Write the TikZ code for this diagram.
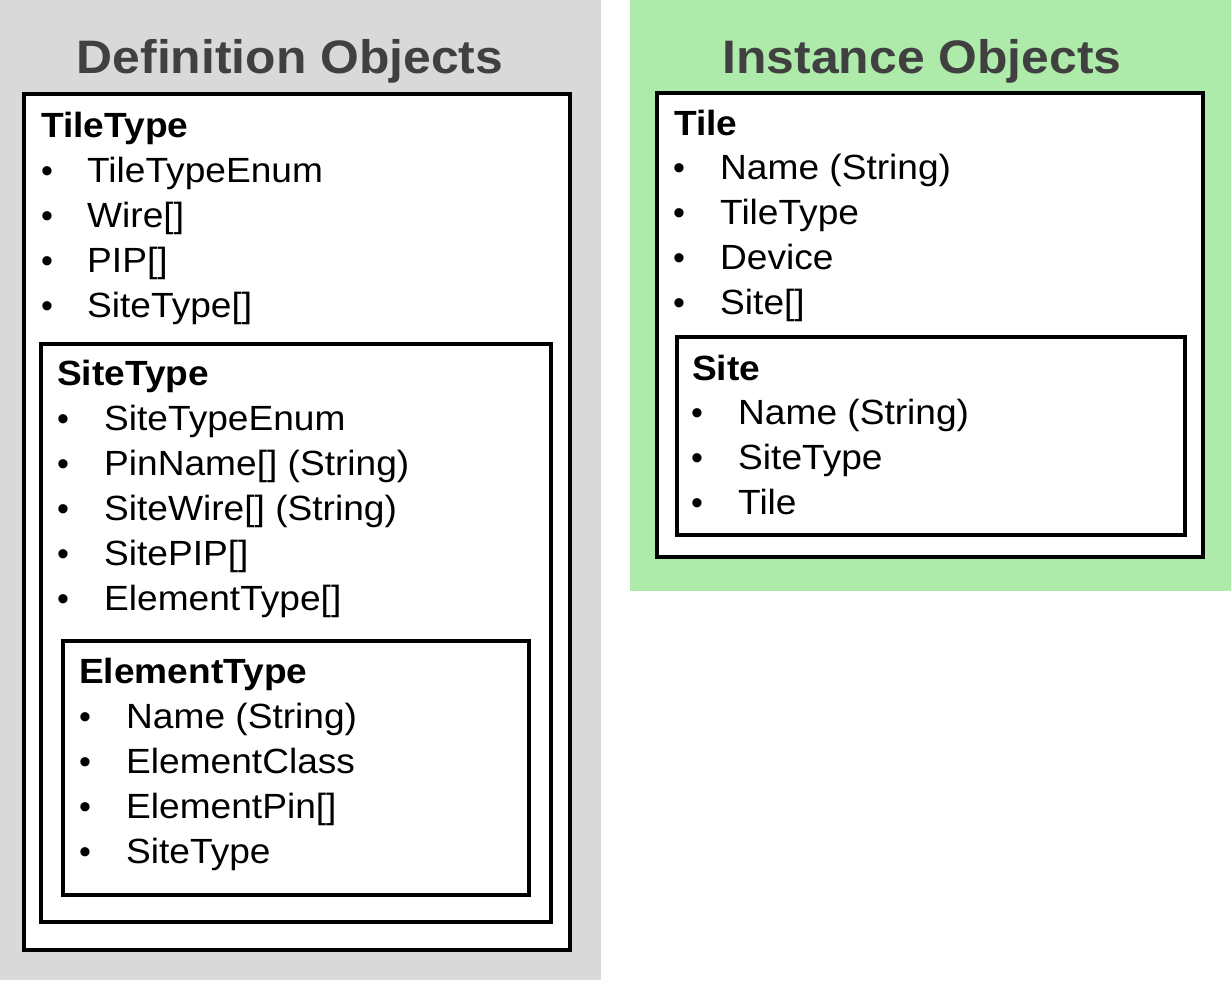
\documentclass[tikz,border=0pt]{standalone}
\usepackage{fontspec}
\setmainfont{Liberation Sans}
\newfontfamily\diagfont[FakeStretch=1.06]{Liberation Sans}
\definecolor{bggray}{HTML}{D9D9D9}
\definecolor{bggreen}{HTML}{AEEBAB}
\definecolor{titlegray}{HTML}{404040}
\tikzset{
  box/.style={draw=black, line width=3.5pt, fill=white},
  itemtxt/.style={anchor=base west, inner sep=0pt, font=\diagfont\fontsize{35}{42}\selectfont},
  bul/.style={anchor=base, inner sep=0pt, font=\fontsize{34}{40}\selectfont},
  hdr/.style={anchor=base west, inner sep=0pt, font=\diagfont\fontsize{35}{42}\selectfont\bfseries},
  ttl/.style={anchor=base, inner sep=0pt, text=titlegray, font=\diagfont\fontsize{47}{56}\selectfont\bfseries},
}
\newcommand{\itemlist}[5]{% name, bullet x, text x, first baseline, list
  \foreach \t [count=\i from 0] in {#5} {
    \node[bul] (#1b\i) at (#2, {#4+45*\i}) {•};
    \node[itemtxt] (#1t\i) at (#3, {#4+45*\i}) {\t};
  }%
}
\begin{document}
\begin{tikzpicture}[x=1pt,y=-1pt]
\useasboundingbox (0,0) rectangle (1231,980);
% backgrounds
\fill[bggray] (0,0) rectangle (601,980);
\fill[bggreen] (630,0) rectangle (1231,591);
% titles
\node[ttl] (deftitle) at (290,73) {Definition Objects};
\node[ttl] (insttitle) at (922,73) {Instance Objects};
% definition boxes
\draw[box] (24,94) rectangle (570,950);
\draw[box] (41,344) rectangle (551,922);
\draw[box] (63,641) rectangle (529,895);
% instance boxes
\draw[box] (657,93) rectangle (1203,557);
\draw[box] (677,337) rectangle (1185,535);
% TileType
\node[hdr] (tthdr) at (41,137) {TileType};
\itemlist{tt}{47}{87}{182}{{TileTypeEnum},{Wire[]},{PIP[]},{SiteType[]}}
% SiteType
\node[hdr] (sthdr) at (57,385) {SiteType};
\itemlist{st}{63}{104}{430}{{SiteTypeEnum},{PinName[] (String)},{SiteWire[] (String)},{SitePIP[]},{ElementType[]}}
% ElementType
\node[hdr] (ethdr) at (79,683) {ElementType};
\itemlist{et}{85}{126}{728}{{Name (String)},{ElementClass},{ElementPin[]},{SiteType}}
% Tile
\node[hdr] (tihdr) at (674,135) {Tile};
\itemlist{ti}{679}{720}{179}{{Name (String)},{TileType},{Device},{Site[]}}
% Site
\node[hdr] (sihdr) at (692,380) {Site};
\itemlist{si}{697}{738}{424}{{Name (String)},{SiteType},{Tile}}
\end{tikzpicture}
\end{document}
